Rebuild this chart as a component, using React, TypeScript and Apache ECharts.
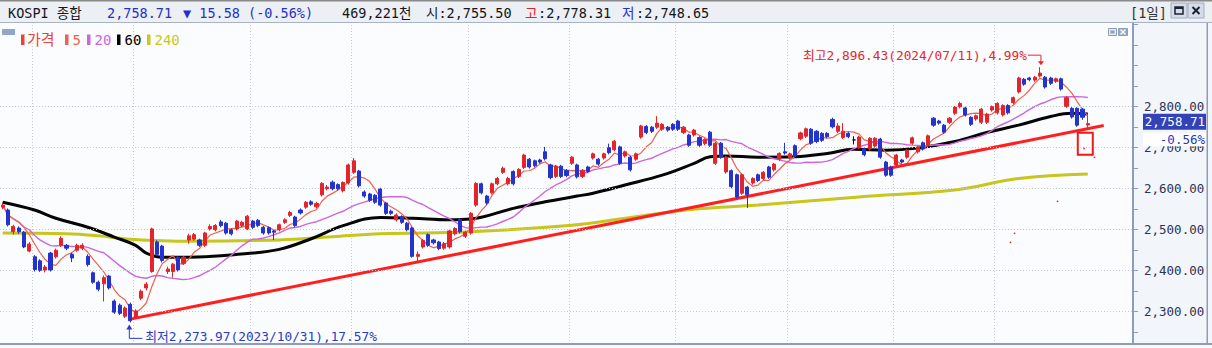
import React, { useEffect, useRef } from 'react';
import * as echarts from 'echarts';

const W = 1212;
const H = 348;

const NAME = 'KOSPI 종합';
const VOLUME_K = 469221;
const PERIOD = '[1일]';

// trading days shown, per month
const MONTH_DAYS: [string, number[]][] = [
  ['2023/09', [20, 21, 22, 25, 26, 27]],
  ['2023/10', [4, 5, 6, 10, 11, 12, 13, 16, 17, 18, 19, 20, 23, 24, 25, 26, 27, 30, 31]],
  ['2023/11', [1, 2, 3, 6, 7, 8, 9, 10, 13, 14, 15, 16, 17, 20, 21, 22, 23, 24, 27, 28, 29, 30]],
  ['2023/12', [1, 4, 5, 6, 7, 8, 11, 12, 13, 14, 15, 18, 19, 20, 21, 22, 26, 27, 28]],
  ['2024/01', [2, 3, 4, 5, 8, 9, 10, 11, 12, 15, 16, 17, 18, 19, 22, 23, 24, 25, 26, 29, 30, 31]],
  ['2024/02', [1, 2, 5, 6, 7, 8, 13, 14, 15, 16, 19, 20, 21, 22, 23, 26, 27, 28, 29]],
  ['2024/03', [4, 5, 6, 7, 8, 11, 12, 13, 14, 15, 18, 19, 20, 21, 22, 25, 26, 27, 28, 29]],
  ['2024/04', [1, 2, 3, 4, 5, 8, 9, 11, 12, 15, 16, 17, 18, 19, 22, 23, 24, 25, 26, 29, 30]],
  ['2024/05', [2, 3, 7, 8, 9, 10, 13, 14, 16, 17, 20, 21, 22, 23, 24, 27, 28, 29, 30, 31]],
  ['2024/06', [3, 4, 5, 7, 10, 11, 12, 13, 14, 17, 18, 19, 20, 21, 24, 25, 26, 27, 28]],
  ['2024/07', [1, 2, 3, 4, 5, 8, 9, 10, 11, 12, 15, 16, 17, 18, 19, 22, 23, 24]],
];

// [open, close, low, high]
const CANDLES: number[][] = [
  [2555, 2560, 2550, 2566], [2548, 2512, 2508, 2552], [2495, 2508, 2488, 2512], [2504, 2495, 2490, 2508],
  [2494, 2458, 2455, 2497], [2448, 2465, 2445, 2470], [2434, 2403, 2398, 2438], [2424, 2401, 2397, 2428],
  [2402, 2409, 2396, 2414], [2443, 2402, 2398, 2446], [2434, 2450, 2430, 2454], [2462, 2479, 2458, 2484],
  [2462, 2455, 2450, 2465], [2440, 2431, 2421, 2444], [2450, 2462, 2446, 2466], [2455, 2462, 2450, 2467],
  [2435, 2415, 2410, 2440], [2395, 2372, 2368, 2398], [2372, 2355, 2350, 2376], [2368, 2383, 2325, 2388],
  [2387, 2358, 2354, 2390], [2326, 2299, 2295, 2330], [2316, 2296, 2292, 2320], [2289, 2309, 2285, 2313],
  [2318, 2278, 2273.97, 2322], [2287, 2302, 2282, 2306], [2333, 2350, 2328, 2354], [2358, 2367, 2352, 2372],
  [2398, 2502, 2395, 2505], [2470, 2440, 2436, 2474], [2460, 2425, 2420, 2463], [2398, 2404, 2392, 2410],
  [2398, 2416, 2383, 2419], [2433, 2402, 2398, 2436], [2418, 2433, 2414, 2436], [2475, 2485, 2466, 2490],
  [2477, 2488, 2473, 2492], [2475, 2462, 2458, 2478], [2462, 2492, 2458, 2495], [2502, 2508, 2498, 2513],
  [2500, 2510, 2496, 2514], [2519, 2510, 2506, 2524], [2516, 2492, 2488, 2519], [2500, 2490, 2486, 2503],
  [2502, 2521, 2498, 2524], [2510, 2518, 2506, 2522], [2502, 2533, 2499, 2536], [2521, 2506, 2502, 2524],
  [2523, 2510, 2506, 2526], [2506, 2492, 2488, 2509], [2505, 2492, 2488, 2508], [2497, 2494, 2475, 2500],
  [2500, 2512, 2496, 2515], [2518, 2524, 2514, 2528], [2535, 2542, 2531, 2546], [2531, 2510, 2506, 2534],
  [2548, 2541, 2537, 2552], [2555, 2567, 2551, 2570], [2568, 2562, 2558, 2572], [2556, 2564, 2552, 2568],
  [2585, 2613, 2581, 2616], [2600, 2604, 2596, 2609], [2616, 2600, 2596, 2620], [2610, 2600, 2596, 2613],
  [2595, 2615, 2591, 2618], [2614, 2658, 2610, 2661], [2640, 2668, 2636, 2675], [2643, 2607, 2603, 2646],
  [2592, 2582, 2578, 2596], [2587, 2572, 2568, 2590], [2584, 2567, 2563, 2587], [2599, 2560, 2556, 2602],
  [2565, 2540, 2536, 2568], [2545, 2540, 2536, 2549], [2524, 2536, 2520, 2540], [2532, 2518, 2514, 2535],
  [2516, 2500, 2496, 2519], [2504, 2435, 2432, 2507], [2435, 2440, 2418, 2447], [2458, 2474, 2454, 2477],
  [2488, 2462, 2458, 2491], [2475, 2468, 2464, 2478], [2470, 2454, 2450, 2473], [2455, 2466, 2451, 2470],
  [2458, 2497, 2454, 2500], [2490, 2503, 2486, 2506], [2525, 2495, 2491, 2528], [2484, 2494, 2480, 2497],
  [2492, 2540, 2488, 2543], [2560, 2613, 2556, 2616], [2612, 2590, 2586, 2615], [2582, 2565, 2561, 2585],
  [2590, 2612, 2586, 2615], [2612, 2625, 2608, 2629], [2640, 2650, 2636, 2654], [2612, 2625, 2608, 2629],
  [2642, 2612, 2608, 2645], [2630, 2647, 2626, 2650], [2652, 2682, 2648, 2685], [2672, 2653, 2649, 2675],
  [2668, 2656, 2652, 2671], [2670, 2665, 2661, 2673], [2690, 2673, 2669, 2702], [2658, 2627, 2623, 2661],
  [2630, 2655, 2626, 2658], [2655, 2630, 2626, 2658], [2645, 2632, 2628, 2648], [2662, 2677, 2658, 2680],
  [2658, 2629, 2625, 2661], [2630, 2645, 2626, 2648], [2653, 2642, 2638, 2656], [2675, 2685, 2671, 2688],
  [2672, 2660, 2656, 2675], [2675, 2685, 2671, 2688], [2700, 2688, 2684, 2710], [2695, 2716, 2691, 2719],
  [2702, 2662, 2658, 2705], [2680, 2690, 2676, 2693], [2677, 2646, 2642, 2680], [2672, 2685, 2668, 2688],
  [2726, 2753, 2722, 2756], [2752, 2737, 2733, 2755], [2750, 2740, 2736, 2753], [2750, 2760, 2746, 2777],
  [2745, 2757, 2741, 2760], [2750, 2743, 2739, 2753], [2757, 2745, 2741, 2760], [2765, 2745, 2741, 2768],
  [2737, 2750, 2733, 2753], [2731, 2706, 2702, 2734], [2731, 2743, 2727, 2746], [2725, 2706, 2702, 2728],
  [2710, 2720, 2706, 2723], [2738, 2706, 2702, 2741], [2662, 2711, 2658, 2714], [2711, 2677, 2673, 2714],
  [2641, 2677, 2637, 2680], [2644, 2605, 2601, 2647], [2634, 2580, 2576, 2637], [2589, 2634, 2585, 2637],
  [2604, 2585, 2553, 2607], [2614, 2625, 2610, 2628], [2634, 2620, 2616, 2637], [2625, 2640, 2621, 2643],
  [2653, 2628, 2624, 2656], [2646, 2660, 2642, 2663], [2672, 2686, 2668, 2689], [2690, 2687, 2683, 2712],
  [2675, 2685, 2671, 2688], [2705, 2680, 2676, 2708], [2722, 2736, 2718, 2739], [2728, 2746, 2724, 2749],
  [2745, 2711, 2707, 2748], [2740, 2715, 2711, 2743], [2735, 2718, 2714, 2738], [2735, 2727, 2723, 2738],
  [2769, 2751, 2747, 2773], [2740, 2753, 2736, 2760], [2725, 2740, 2721, 2760], [2735, 2727, 2723, 2738],
  [2719, 2719, 2708, 2728], [2700, 2726, 2696, 2729], [2697, 2683, 2679, 2700], [2697, 2723, 2693, 2726],
  [2704, 2723, 2700, 2726], [2721, 2677, 2673, 2724], [2665, 2633, 2629, 2668], [2653, 2633, 2629, 2656],
  [2658, 2682, 2654, 2685], [2670, 2665, 2661, 2673], [2677, 2694, 2673, 2697], [2711, 2724, 2707, 2727],
  [2690, 2701, 2686, 2704], [2712, 2697, 2693, 2715], [2706, 2729, 2702, 2732], [2772, 2755, 2751, 2775],
  [2765, 2760, 2756, 2768], [2755, 2738, 2734, 2758], [2762, 2772, 2758, 2775], [2784, 2799, 2780, 2802],
  [2800, 2808, 2796, 2812], [2797, 2780, 2776, 2800], [2774, 2757, 2753, 2777], [2770, 2778, 2766, 2781],
  [2762, 2794, 2758, 2797], [2762, 2782, 2758, 2785], [2792, 2800, 2788, 2803], [2785, 2808, 2781, 2811],
  [2780, 2803, 2776, 2806], [2803, 2785, 2781, 2806], [2810, 2822, 2806, 2825], [2836, 2870, 2832, 2873],
  [2867, 2855, 2851, 2870], [2870, 2866, 2862, 2873], [2865, 2872, 2861, 2875], [2875, 2882, 2871, 2896.43],
  [2872, 2848, 2844, 2875], [2870, 2857, 2853, 2873], [2862, 2868, 2858, 2871], [2868, 2843, 2839, 2871],
  [2801, 2822, 2797, 2825], [2796, 2775, 2771, 2799], [2796, 2755, 2751, 2799], [2794, 2774.29, 2768, 2797],
  [2755.5, 2758.71, 2748.65, 2778.31],
];

const MA60_POINTS: number[][] = [
  [0, 2567], [6, 2548], [10, 2528], [16, 2506], [21, 2482], [25, 2462], [27, 2443], [30, 2433], [35, 2433],
  [46, 2442], [52, 2452], [58, 2478], [64, 2510], [71, 2530], [77, 2528], [84, 2524], [88, 2526], [96, 2552],
  [102, 2568], [108, 2582], [111, 2589], [117, 2609], [124, 2633], [130, 2662], [133, 2678], [136, 2680],
  [142, 2677], [149, 2678], [155, 2686], [160, 2696], [166, 2694], [172, 2699], [179, 2715], [185, 2737],
  [191, 2755], [197, 2776], [201, 2784], [204, 2782],
];
const MA240_POINTS: number[][] = [
  [0, 2492], [12, 2490], [18, 2485], [24, 2477], [35, 2472], [52, 2475], [62, 2483], [71, 2490], [88, 2495],
  [107, 2511], [116, 2526], [130, 2550], [142, 2560], [161, 2580], [179, 2597], [191, 2625], [204, 2636],
];
// support line from the low
const TREND_POINTS: number[][] = [[24, 2282], [207, 2754]];

const GRID_LEVELS = [2300, 2400, 2500, 2600, 2700, 2800];
const PAD_SLOTS = 8;
const Y_MIN = 2223.7;
const Y_MAX = 3006.6;

const C_UP = '#e3242b';
const C_DOWN = '#2433cc';
const C_MA5 = '#f0604f';
const C_MA20 = '#cc66dc';
const C_MA60 = '#050505';
const C_MA240 = '#c6c61e';
const C_TREND = '#ff1f1f';
const C_AXIS = '#8d9cb9';
const MONO = '"DejaVu Sans Mono", "Noto Sans CJK KR", monospace';

const pad2 = (n: number) => (n < 10 ? '0' + n : '' + n);
const DATES: string[] = MONTH_DAYS.flatMap(([m, days]) => days.map((d) => `${m}/${pad2(d)}`));
const CATEGORIES = [...DATES, ...Array.from({ length: PAD_SLOTS }, (_, k) => `+${k + 1}`)];
const CLOSES = CANDLES.map((c) => c[1]);

const movingAverage = (n: number) =>
  CLOSES.map((_, i) => {
    const s = Math.max(0, i - n + 1);
    let sum = 0;
    for (let k = s; k <= i; k++) sum += CLOSES[k];
    return +(sum / (i - s + 1)).toFixed(2);
  });

const fmt2 = (v: number) => v.toLocaleString('en-US', { minimumFractionDigits: 2, maximumFractionDigits: 2 });

function buildOption(): any {
  const monthStart = (i: number) =>
    i > 0 && i < DATES.length && DATES[i].slice(0, 7) !== DATES[i - 1].slice(0, 7);
  const candleData = CANDLES.map((c) =>
    c[0] === c[1]
      ? { value: c, itemStyle: { color: '#111', color0: '#111', borderColor: '#111', borderColor0: '#111' } }
      : c
  );
  const thin = (name: string, data: any[], color: string, width: number, smooth: number | boolean = false, extra: any = {}) => ({
    name,
    type: 'line',
    data,
    symbol: 'none',
    smooth,
    silent: true,
    lineStyle: { color, width },
    itemStyle: { color },
    z: 3,
    ...extra,
  });
  return {
    animation: false,
    backgroundColor: '#f2f5f9',
    grid: { left: 0, right: 79, top: 22, bottom: 5, show: true, backgroundColor: '#fbfcfd', borderWidth: 0 },
    xAxis: {
      type: 'category',
      data: CATEGORIES,
      boundaryGap: true,
      axisLine: { show: false },
      axisTick: { show: false },
      axisLabel: { show: false },
      splitLine: {
        show: true,
        interval: (i: number) => monthStart(i),
        lineStyle: { color: '#c5cad4', type: [1, 2], width: 1 },
      },
    },
    yAxis: {
      type: 'value',
      position: 'right',
      min: Y_MIN,
      max: Y_MAX,
      splitNumber: 8,
      minInterval: 100,
      maxInterval: 100,
      axisLine: { show: true, lineStyle: { color: C_AXIS, width: 2 } },
      axisTick: { show: true, length: 5, lineStyle: { color: C_AXIS } },
      minorTick: { show: true, splitNumber: 2, length: 5, lineStyle: { color: C_AXIS } },
      splitLine: { show: false },
      axisLabel: {
        margin: 11,
        color: '#2c3456',
        fontFamily: 'DejaVu Sans Mono',
        fontSize: 12.5,
        showMinLabel: false,
        showMaxLabel: false,
        formatter: (v: number) => (GRID_LEVELS.some((g) => Math.abs(g - v) < 0.01) ? fmt2(v) : ''),
      },
    },
    series: [
      thin('240', MA240_POINTS, C_MA240, 3, 0.4, {
        z: 2,
        markLine: {
          silent: true,
          symbol: 'none',
          label: { show: false },
          lineStyle: { color: '#c5cad4', type: [1, 2], width: 1 },
          data: GRID_LEVELS.map((v) => ({ yAxis: v })),
        },
      }),
      thin('60', MA60_POINTS, C_MA60, 3, 0.4, { z: 2 }),
      thin('20', movingAverage(20), C_MA20, 1.4),
      thin('5', movingAverage(5), C_MA5, 1.2),
      thin('trend', TREND_POINTS, C_TREND, 3, false, { z: 4 }),
      {
        name: '가격',
        type: 'candlestick',
        data: candleData,
        barWidth: 3.6,
        silent: true,
        z: 5,
        itemStyle: { color: C_UP, color0: C_DOWN, borderColor: C_UP, borderColor0: C_DOWN, borderWidth: 1 },
      },
    ],
  };
}

function buildGraphics(toPx: (i: number, v: number) => number[]): any[] {
  const g: any[] = [];
  const text = (x: number, y: number, t: string, fill: string, size = 13, align = 'left', family = MONO) =>
    g.push({
      type: 'text',
      x,
      y,
      z: 100,
      silent: true,
      style: {
        text: t,
        fill,
        font: `${size}px ${family}`,
        textAlign: align,
        align,
        textVerticalAlign: 'middle',
        verticalAlign: 'middle',
      },
    });
  const rect = (x: number, y: number, w: number, h: number, fill: string, stroke?: string, lw = 1, z = 95) =>
    g.push({
      type: 'rect',
      z,
      silent: true,
      shape: { x, y, width: w, height: h },
      style: { fill, stroke: stroke || 'none', lineWidth: stroke ? lw : 0 },
    });
  const poly = (pts: number[][], stroke: string, lw = 1) =>
    g.push({ type: 'polyline', z: 100, silent: true, shape: { points: pts }, style: { stroke, lineWidth: lw, fill: 'none' } });
  const tri = (pts: number[][], fill: string) =>
    g.push({ type: 'polygon', z: 100, silent: true, shape: { points: pts }, style: { fill } });

  const n = CANDLES.length;
  const last = CANDLES[n - 1];
  const prev = CLOSES[n - 2];
  const close = last[1];
  const change = close - prev;
  const pct = (change / prev) * 100;

  // header bar
  rect(0, 0, W, 23, '#eceff4');
  rect(0, 0, W, 1.5, '#8a8a8a');
  rect(0, 22, W, 1, '#a9b3c4');
  text(8, 12.5, NAME, '#15151a', 13.5);
  text(107, 12.5, fmt2(close), '#1f33c4', 13.5);
  text(183, 12.5, `${change < 0 ? '▼' : '▲'} ${fmt2(Math.abs(change))} (${pct.toFixed(2)}%)`, '#1f33c4', 13.5);
  text(342, 12.5, `${VOLUME_K.toLocaleString('en-US')}천`, '#15151a', 13.5);
  text(426, 12.5, `시:${fmt2(last[0])}`, '#15151a', 13.5);
  text(525, 12.5, '고', '#e3242b', 13.5);
  text(538, 12.5, `:${fmt2(last[3])}`, '#15151a', 13.5);
  text(622, 12.5, '저', '#1f33c4', 13.5);
  text(636, 12.5, `:${fmt2(last[2])}`, '#15151a', 13.5);
  text(1130, 12.5, PERIOD, '#333', 13.5);
  rect(1171, 3, 16, 15, '#d6dde8', '#a3aec2', 1);
  rect(1175, 7, 8, 7, 'none', '#1c2233', 1.5, 96);
  rect(1175, 7, 8, 2, '#1c2233', undefined, 1, 96);
  rect(1188, 3, 16, 15, '#d6dde8', '#a3aec2', 1);
  poly([[1192.5, 7], [1199.5, 14]], '#1c2233', 2);
  poly([[1199.5, 7], [1192.5, 14]], '#1c2233', 2);

  // frame
  rect(1206.5, 23, 1.5, 320, C_AXIS);
  rect(0, 343, W, 2, C_AXIS);
  rect(0, 345, W, 3, '#f7f9fb');

  // legend
  rect(2, 29, 13, 6, '#93a6c6');
  const legend: [string, string, number][] = [
    ['가격', '#e8423a', 21],
    ['5', C_MA5, 65],
    ['20', C_MA20, 87],
    ['60', '#000', 117],
    ['240', '#c8c81e', 147],
  ];
  legend.forEach(([label, color, x]) => {
    rect(x, 34.5, 3.5, 10.5, color);
    text(x + (label === '가격' ? 6 : 7.5), 40, label, color, label === '가격' ? 15 : 14);
  });

  // panel buttons top-right of plot
  rect(1108.5, 28.5, 8, 7, '#e3e9f1', '#8d9cb9', 1);
  rect(1110.5, 30.5, 4, 3, '#8d9cb9');
  rect(1118.5, 28.5, 9, 7, '#97a9c8', '#8d9cb9', 1);
  poly([[1120.5, 29.5], [1125.5, 34.5]], '#fff', 1.2);
  poly([[1125.5, 29.5], [1120.5, 34.5]], '#fff', 1.2);

  // high annotation
  let hiIdx = 0;
  let loIdx = 0;
  CANDLES.forEach((c, i) => {
    if (c[3] > CANDLES[hiIdx][3]) hiIdx = i;
    if (c[2] < CANDLES[loIdx][2]) loIdx = i;
  });
  const hi = CANDLES[hiIdx][3];
  const lo = CANDLES[loIdx][2];
  const [hx, hy] = toPx(hiIdx, hi);
  const hRed = '#e8262b';
  text(hx - 13, hy - 12, `최고${fmt2(hi)}(${DATES[hiIdx]}),${(((hi - close) / close) * 100).toFixed(2)}%`, hRed, 12.8, 'right');
  poly([[hx - 12, hy - 12], [hx + 1, hy - 12], [hx + 1, hy - 5]], hRed, 1);
  tri([[hx - 2, hy - 6], [hx + 4, hy - 6], [hx + 1, hy - 2]], hRed);

  // low annotation
  const [lx, ly] = toPx(loIdx, lo);
  const lBlue = '#2a3bc4';
  text(lx + 15, ly + 14, `최저${fmt2(lo)}(${DATES[loIdx]}),${(((close - lo) / close) * 100).toFixed(2)}%`, lBlue, 12.8, 'left');
  poly([[lx - 1, ly + 5], [lx - 1, ly + 16], [lx + 12, ly + 16]], lBlue, 1);
  tri([[lx - 4, ly + 7], [lx + 2, ly + 7], [lx - 1, ly + 2]], lBlue);

  // marker box near the last candle
  const [cx, cy] = toPx(n - 1, close);
  rect(cx - 10, cy + 9, 15, 22, 'none', '#f01818', 2, 99);
  rect(cx - 4.5, cy + 24, 1.5, 1.5, '#f01818', undefined, 1, 99);
  rect(cx + 6, cy + 33, 1.5, 1.5, '#f01818', undefined, 1, 99);
  rect(cx - 31, cy + 77, 1.5, 1.5, '#f01818', undefined, 1, 99);
  rect(cx - 74, cy + 109, 1.5, 1.5, '#f01818', undefined, 1, 99);
  rect(cx - 78, cy + 118, 1.5, 1.5, '#f01818', undefined, 1, 99);

  // current price tag on the axis
  rect(1143, cy - 10, 63, 16, '#3342b6', undefined, 1, 99);
  text(1205, cy - 2, fmt2(close), '#ffffff', 12.5, 'right', '"DejaVu Sans Mono", monospace');
  rect(1143, cy + 9.5, 63, 13, '#ffffff', undefined, 1, 99);
  text(1205, cy + 16, `${pct.toFixed(2)}%`, '#2438c8', 12.5, 'right', '"DejaVu Sans Mono", monospace');

  return g;
}

export default function App() {
  const ref = useRef<HTMLDivElement>(null);
  useEffect(() => {
    document.body.style.margin = '0';
    const chart = echarts.init(ref.current!, null, { renderer: 'svg', width: W, height: H });
    chart.setOption(buildOption());
    const toPx = (i: number, v: number) =>
      chart.convertToPixel({ xAxisIndex: 0, yAxisIndex: 0 } as any, [i, v]) as unknown as number[];
    chart.setOption({ graphic: buildGraphics(toPx) });
    return () => chart.dispose();
  }, []);
  return <div ref={ref} style={{ width: W, height: H }} />;
}
